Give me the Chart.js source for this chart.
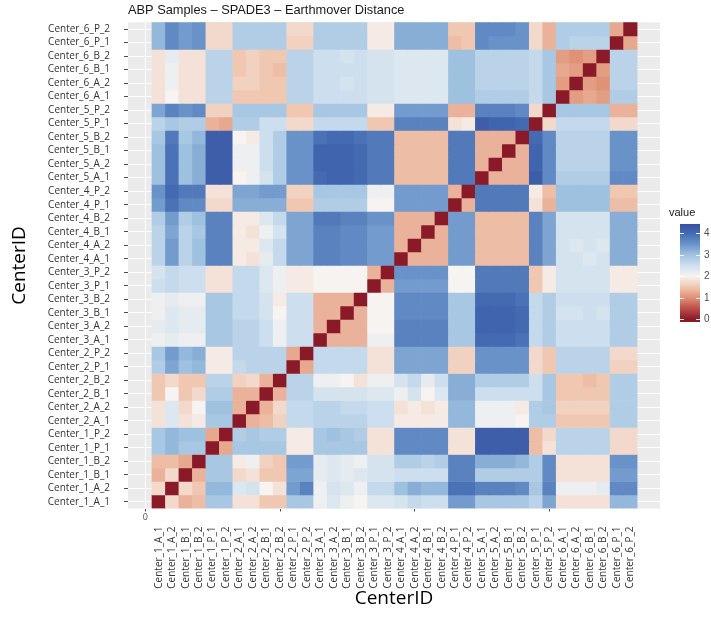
<!DOCTYPE html>
<html>
<head>
<meta charset="utf-8">
<title>ABP Samples – SPADE3 – Earthmover Distance</title>
<script src="https://cdn.jsdelivr.net/npm/chart.js@4/dist/chart.umd.min.js"></script>
<style>
  html, body { margin: 0; padding: 0; background: #fff; }
</style>
</head>
<body>
<canvas id="chartEmd" width="711" height="628"></canvas>
<script>
// sample labels, bottom row / first column first
const centers = [
  'Center_1_A_1', 'Center_1_A_2', 'Center_1_B_1', 'Center_1_B_2', 'Center_1_P_1', 'Center_1_P_2',
  'Center_2_A_1', 'Center_2_A_2', 'Center_2_B_1', 'Center_2_B_2', 'Center_2_P_1', 'Center_2_P_2',
  'Center_3_A_1', 'Center_3_A_2', 'Center_3_B_1', 'Center_3_B_2', 'Center_3_P_1', 'Center_3_P_2',
  'Center_4_A_1', 'Center_4_A_2', 'Center_4_B_1', 'Center_4_B_2', 'Center_4_P_1', 'Center_4_P_2',
  'Center_5_A_1', 'Center_5_A_2', 'Center_5_B_1', 'Center_5_B_2', 'Center_5_P_1', 'Center_5_P_2',
  'Center_6_A_1', 'Center_6_A_2', 'Center_6_B_1', 'Center_6_B_2', 'Center_6_P_1', 'Center_6_P_2'
];

// earthmover distance, one row per sample (same order as centers)
const emd = [
  [0,1.7,1.3,1.4,2.9,2.9, 1.8,1.8,1.5,1.5,2.9,2.9, 2.1,2.3,2.1,2.0,2.3,2.3, 2.4,2.6,2.5,2.5,3.4,3.4, 2.9,2.9,2.9,2.9,2.7,3.3, 1.8,1.8,1.8,1.8,3.1,3.1],
  [1.7,0,1.7,1.5,3.1,3.1, 2.3,2.4,2.0,1.8,3.4,3.7, 2.1,2.4,2.3,2.1,2.6,2.6, 3.0,3.2,3.1,3.1,3.9,3.9, 3.7,3.7,3.7,3.6,2.9,3.7, 2.1,2.1,2.1,2.2,3.6,3.6],
  [1.3,1.7,0,1.3,2.9,2.9, 1.7,1.8,1.5,1.5,3.3,3.3, 2.2,2.3,2.2,2.3,2.4,2.4, 2.5,2.5,2.5,2.5,3.7,3.7, 2.8,2.8,2.8,2.8,2.8,3.6, 1.8,1.8,1.8,1.8,3.4,3.4],
  [1.4,1.4,1.2,0,2.9,2.9, 1.9,2.1,1.6,1.5,3.4,3.4, 2.2,2.3,2.2,2.1,2.4,2.4, 2.8,2.8,2.7,2.8,3.7,3.7, 3.2,3.2,3.2,3.1,2.8,3.6, 1.8,1.8,1.8,1.8,3.5,3.5],
  [2.9,3.1,2.9,2.9,0,1.2, 2.9,2.9,2.9,2.9,1.9,1.9, 2.9,2.9,2.9,2.9,1.8,1.8, 3.6,3.6,3.6,3.6,1.8,1.8, 4.2,4.2,4.2,4.2,1.4,1.8, 2.7,2.7,2.7,2.7,1.7,1.7],
  [2.9,3.1,3.0,3.0,1.2,0, 2.8,2.9,2.8,2.8,1.9,1.9, 2.9,3.0,2.9,2.8,1.8,1.8, 3.6,3.6,3.6,3.6,1.8,1.8, 4.2,4.2,4.2,4.2,1.4,1.7, 2.7,2.7,2.7,2.7,1.7,1.7],
  [1.8,2.3,1.8,1.9,2.9,2.9, 0,1.3,1.4,1.6,2.6,2.6, 2.7,2.7,2.7,2.7,2.5,2.5, 1.9,1.9,1.9,1.9,3.1,3.1, 2.1,2.1,2.1,2.0,2.8,2.8, 1.5,1.5,1.5,1.5,2.8,2.8],
  [1.8,2.3,1.7,2.0,3.0,3.0, 1.3,0,1.3,1.7,2.6,2.6, 2.7,2.7,2.6,2.6,2.5,2.5, 1.8,1.9,1.8,1.9,3.1,3.1, 2.1,2.1,2.1,1.9,2.8,2.9, 1.6,1.6,1.6,1.6,2.8,2.8],
  [1.5,2.0,1.5,1.7,2.8,2.8, 1.3,1.3,0,1.3,2.7,2.7, 2.4,2.4,2.4,2.4,2.3,2.3, 2.1,2.4,2.0,2.3,3.2,3.2, 2.5,2.5,2.5,2.5,2.5,2.9, 1.5,1.5,1.5,1.5,2.8,2.8],
  [1.5,1.7,1.5,1.5,2.7,2.7, 1.6,1.7,1.3,0,2.7,2.7, 2.1,2.1,2.0,1.8,2.1,2.1, 2.4,2.6,2.2,2.5,3.2,3.2, 2.8,2.8,2.8,2.8,2.5,2.9, 1.5,1.5,1.4,1.5,2.8,2.8],
  [2.8,3.3,3.0,3.1,1.9,1.9, 2.6,2.7,2.7,2.7,0,1.2, 2.6,2.6,2.6,2.6,1.8,1.8, 3.3,3.3,3.3,3.3,1.6,1.6, 3.5,3.5,3.5,3.5,1.7,1.5, 2.7,2.7,2.7,2.7,1.6,1.6],
  [2.9,3.4,3.1,3.2,1.9,1.9, 2.7,2.7,2.7,2.7,1.2,0, 2.6,2.6,2.6,2.6,1.8,1.8, 3.3,3.3,3.3,3.3,1.6,1.6, 3.5,3.5,3.5,3.5,1.7,1.5, 2.7,2.7,2.7,2.7,1.7,1.7],
  [2.1,2.2,2.1,2.1,2.9,2.9, 2.7,2.7,2.5,2.1,2.5,2.5, 0,1.3,1.3,1.3,2.1,2.1, 3.7,3.7,3.7,3.7,2.9,2.9, 4.0,4.0,4.0,3.9,2.6,2.8, 2.5,2.5,2.5,2.5,2.8,2.8],
  [2.2,2.3,2.2,2.2,2.9,2.9, 2.7,2.7,2.5,2.1,2.5,2.5, 1.3,0,1.3,1.3,2.0,2.0, 3.7,3.7,3.7,3.7,2.9,2.9, 4.1,4.1,4.1,4.0,2.6,2.8, 2.5,2.5,2.5,2.5,2.8,2.8],
  [2.1,2.3,2.2,2.2,2.9,2.9, 2.6,2.6,2.4,2.0,2.5,2.5, 1.3,1.3,0,1.3,2.0,2.0, 3.6,3.6,3.6,3.6,2.9,2.9, 4.1,4.1,4.1,4.0,2.6,2.8, 2.4,2.4,2.5,2.4,2.8,2.8],
  [2.1,2.2,2.1,2.1,2.9,2.9, 2.6,2.6,2.4,1.9,2.5,2.5, 1.3,1.3,1.3,0,2.0,2.0, 3.6,3.6,3.6,3.6,2.9,2.9, 4.0,4.0,4.0,3.9,2.6,2.8, 2.5,2.5,2.5,2.5,2.8,2.8],
  [2.5,2.6,2.5,2.5,1.8,1.8, 2.6,2.6,2.3,2.1,1.9,1.9, 2.0,2.0,2.0,2.0,0,1.3, 3.4,3.4,3.4,3.4,2.0,2.0, 3.8,3.8,3.8,3.8,1.5,1.9, 2.4,2.4,2.4,2.4,1.9,1.9],
  [2.4,2.6,2.5,2.5,1.8,1.8, 2.6,2.6,2.3,2.1,1.9,1.9, 2.0,2.0,2.0,2.0,1.3,0, 3.5,3.5,3.5,3.5,2.0,2.0, 3.8,3.8,3.8,3.8,1.5,1.9, 2.4,2.4,2.4,2.4,1.9,1.9],
  [2.7,3.4,2.7,3.0,3.7,3.7, 1.9,1.8,2.2,2.6,3.3,3.3, 3.7,3.7,3.6,3.6,3.4,3.4, 0,1.3,1.3,1.3,3.4,3.4, 1.4,1.4,1.4,1.4,3.7,3.3, 2.4,2.4,2.3,2.4,3.2,3.2],
  [2.7,3.4,2.7,3.0,3.7,3.7, 1.9,1.9,2.3,2.6,3.3,3.3, 3.7,3.7,3.6,3.6,3.4,3.4, 1.3,0,1.3,1.3,3.4,3.4, 1.4,1.4,1.4,1.4,3.7,3.3, 2.4,2.3,2.4,2.3,3.2,3.2],
  [2.7,3.3,2.7,2.9,3.7,3.7, 1.9,1.8,2.1,2.4,3.3,3.3, 3.7,3.7,3.6,3.6,3.4,3.4, 1.3,1.3,0,1.3,3.4,3.4, 1.4,1.4,1.4,1.4,3.7,3.3, 2.4,2.4,2.4,2.4,3.2,3.2],
  [2.8,3.4,2.8,3.0,3.7,3.7, 1.9,1.9,2.3,2.6,3.3,3.3, 3.8,3.8,3.7,3.7,3.5,3.5, 1.3,1.3,1.3,0,3.4,3.4, 1.4,1.4,1.4,1.4,3.7,3.3, 2.4,2.4,2.4,2.4,3.2,3.2],
  [3.4,3.9,3.6,3.6,1.7,1.7, 3.2,3.2,3.2,3.2,1.5,1.5, 2.8,2.8,2.8,2.8,2.0,2.0, 3.4,3.4,3.4,3.4,0,1.3, 3.8,3.8,3.8,3.8,1.8,1.3, 3.0,3.0,3.0,3.0,1.4,1.4],
  [3.5,4.0,3.8,3.8,1.8,1.8, 3.3,3.3,3.4,3.4,1.6,1.6, 2.9,2.9,2.9,2.9,2.1,2.1, 3.4,3.4,3.4,3.4,1.3,0, 3.8,3.8,3.8,3.8,1.9,1.4, 3.0,3.0,3.0,3.0,1.5,1.5],
  [3.0,3.9,3.0,3.2,4.2,4.2, 2.0,2.1,2.4,2.8,3.5,3.5, 4.0,4.1,4.1,4.0,3.8,3.8, 1.4,1.4,1.4,1.4,3.8,3.8, 0,1.3,1.3,1.3,4.2,3.6, 2.8,2.8,2.8,2.8,3.6,3.6],
  [3.0,3.9,3.0,3.2,4.2,4.2, 2.1,2.1,2.5,2.8,3.5,3.5, 4.1,4.1,4.1,4.0,3.8,3.8, 1.4,1.4,1.4,1.4,3.8,3.8, 1.3,0,1.3,1.3,4.1,3.6, 2.7,2.7,2.7,2.7,3.5,3.5],
  [3.0,3.9,3.0,3.2,4.2,4.2, 2.1,2.1,2.5,2.8,3.5,3.5, 4.1,4.1,4.1,4.0,3.8,3.8, 1.4,1.4,1.4,1.4,3.8,3.8, 1.3,1.3,0,1.3,4.1,3.6, 2.7,2.7,2.7,2.7,3.5,3.5],
  [2.9,3.8,2.9,3.1,4.2,4.2, 2.0,1.9,2.5,2.8,3.5,3.5, 3.9,4.0,4.0,3.9,3.8,3.8, 1.4,1.4,1.4,1.4,3.8,3.8, 1.3,1.3,1.3,0,4.0,3.6, 2.7,2.7,2.7,2.7,3.5,3.5],
  [2.7,2.9,2.8,2.8,1.3,1.2, 2.8,2.8,2.5,2.5,1.7,1.7, 2.6,2.6,2.6,2.6,1.5,1.5, 3.7,3.7,3.7,3.7,1.8,1.9, 4.2,4.1,4.1,4.0,0,1.7, 2.6,2.6,2.6,2.6,1.7,1.7],
  [3.3,3.7,3.5,3.6,1.6,1.6, 2.9,2.9,2.9,2.9,1.5,1.5, 2.9,2.9,2.9,2.9,1.9,1.9, 3.4,3.4,3.4,3.4,1.3,1.3, 3.7,3.7,3.7,3.6,1.7,0, 2.9,2.9,2.9,2.9,1.3,1.3],
  [1.8,2.0,1.8,1.8,2.7,2.7, 1.5,1.5,1.5,1.5,2.7,2.7, 2.5,2.5,2.5,2.5,2.4,2.4, 2.3,2.3,2.3,2.3,3.0,3.0, 2.8,2.8,2.8,2.8,2.6,2.9, 0,1.1,1.2,1.1,2.8,2.8],
  [1.8,2.1,1.8,1.8,2.7,2.7, 1.6,1.6,1.5,1.5,2.7,2.7, 2.5,2.5,2.4,2.5,2.4,2.4, 2.3,2.3,2.3,2.3,3.0,3.0, 2.7,2.7,2.7,2.7,2.6,2.9, 1.1,0,1.1,1.0,2.7,2.7],
  [1.8,2.1,1.8,1.8,2.7,2.7, 1.5,1.6,1.5,1.4,2.7,2.7, 2.5,2.5,2.5,2.5,2.4,2.4, 2.3,2.3,2.3,2.3,3.0,3.0, 2.7,2.7,2.7,2.7,2.6,2.9, 1.2,1.1,0,1.1,2.7,2.7],
  [1.8,2.2,1.8,1.8,2.7,2.7, 1.5,1.6,1.5,1.5,2.7,2.7, 2.5,2.5,2.4,2.5,2.4,2.4, 2.3,2.3,2.3,2.3,3.0,3.0, 2.7,2.7,2.7,2.7,2.6,2.9, 1.1,1.0,1.1,0,2.7,2.7],
  [3.1,3.6,3.4,3.5,1.7,1.7, 2.8,2.8,2.8,2.8,1.6,1.6, 2.8,2.8,2.8,2.8,1.9,1.9, 3.2,3.2,3.2,3.2,1.4,1.5, 3.6,3.5,3.5,3.5,1.7,1.3, 2.8,2.7,2.7,2.7,0,1.2],
  [3.1,3.6,3.4,3.5,1.7,1.7, 2.8,2.8,2.8,2.8,1.7,1.7, 2.8,2.8,2.8,2.8,1.9,1.9, 3.2,3.2,3.2,3.2,1.5,1.5, 3.6,3.6,3.6,3.5,1.7,1.3, 2.8,2.8,2.8,2.8,1.2,0]
];

const xBreaks = [0, 10, 20, 30];
const legendTicks = [0, 1, 2, 3, 4];
const legendMax = 4.42;

// red - white - blue fill, piecewise in rgb
const ramp = [
  [0.0, [139, 26, 40]],
  [0.5, [190, 80, 75]],
  [1.0, [224, 146, 118]],
  [1.5, [240, 200, 178]],
  [2.0, [246, 243, 241]],
  [2.5, [205, 223, 238]],
  [3.0, [158, 193, 224]],
  [3.5, [104, 146, 200]],
  [4.0, [68, 106, 178]],
  [4.42, [55, 80, 160]]
];

function fillFor(v) {
  if (v <= ramp[0][0]) return 'rgb(' + ramp[0][1].join(',') + ')';
  for (let k = 1; k < ramp.length; k++) {
    if (v <= ramp[k][0]) {
      const [v0, c0] = ramp[k - 1];
      const [v1, c1] = ramp[k];
      const t = (v - v0) / (v1 - v0);
      const c = c0.map((a, n) => Math.round(a + (c1[n] - a) * t));
      return 'rgb(' + c.join(',') + ')';
    }
  }
  return 'rgb(' + ramp[ramp.length - 1][1].join(',') + ')';
}

const cells = [];
const cellColors = [];
emd.forEach((row, i) => {
  row.forEach((v, j) => {
    cells.push({ x: j + 1, y: [i + 0.5, i + 1.5], v: v });
    cellColors.push(fillFor(v));
  });
});

const X_MIN = -1.28, X_MAX = 38.2;
const labelFont = { family: 'Open Sans', size: 10 };
const axisTitleFont = { family: 'Open Sans', size: 19 };

// grey ggplot panel behind the tiles
const panelBg = {
  id: 'panelBg',
  beforeDraw(chart) {
    const { ctx, chartArea: a } = chart;
    ctx.save();
    ctx.fillStyle = '#EBEBEB';
    ctx.fillRect(a.left, a.top, a.right - a.left, a.bottom - a.top);
    ctx.restore();
  }
};

// continuous colour bar on the right
const colorBar = {
  id: 'colorBar',
  afterDraw(chart) {
    const ctx = chart.ctx;
    const x0 = 680, w = 20, y0 = 319, perUnit = 21.5;
    const yTop = y0 - legendMax * perUnit;
    const yBot = 322;
    const grad = ctx.createLinearGradient(0, y0, 0, yTop);
    ramp.forEach(([v, c]) => grad.addColorStop(v / legendMax, 'rgb(' + c.join(',') + ')'));
    ctx.save();
    ctx.fillStyle = grad;
    ctx.fillRect(x0, yTop, w, yBot - yTop);
    ctx.strokeStyle = 'rgba(255,255,255,0.9)';
    ctx.lineWidth = 1;
    ctx.font = '10px "Liberation Sans"';
    ctx.fillStyle = '#4d4d4d';
    ctx.textBaseline = 'middle';
    ctx.textAlign = 'left';
    legendTicks.forEach(v => {
      const y = Math.round(y0 - v * perUnit) + 0.5;
      ctx.beginPath();
      ctx.moveTo(x0, y); ctx.lineTo(x0 + 4, y);
      ctx.moveTo(x0 + w - 4, y); ctx.lineTo(x0 + w, y);
      ctx.stroke();
      ctx.fillText(String(v), x0 + w + 4, y);
    });
    ctx.fillStyle = '#1a1a1a';
    ctx.font = '11px "Liberation Sans"';
    ctx.textBaseline = 'alphabetic';
    ctx.fillText('value', 669, 216);
    ctx.restore();
  }
};

const ctx = document.getElementById('chartEmd').getContext('2d');
new Chart(ctx, {
  type: 'bar',
  data: {
    datasets: [{
      data: cells,
      backgroundColor: cellColors,
      borderWidth: 0,
      barPercentage: 1,
      categoryPercentage: 1,
      xAxisID: 'x',
      yAxisID: 'y'
    }]
  },
  options: {
    responsive: false,
    animation: false,
    layout: { padding: { left: 0, right: 51, top: 0, bottom: 0 } },
    plugins: {
      legend: { display: false },
      tooltip: { enabled: false },
      title: {
        display: true,
        text: 'ABP Samples – SPADE3 – Earthmover Distance',
        align: 'start',
        fullSize: false,
        color: '#1a1a1a',
        font: { family: 'Liberation Sans', size: 12.8, weight: 'normal' },
        padding: { top: 3, bottom: 4 }
      }
    },
    scales: {
      x: {
        type: 'linear',
        axis: 'x',
        position: 'bottom',
        weight: 0,
        min: X_MIN,
        max: X_MAX,
        offset: false,
        afterBuildTicks: s => { s.ticks = xBreaks.map(v => ({ value: v })); },
        afterFit: s => { s.height = 15; },
        grid: { color: '#ffffff', lineWidth: 1, tickColor: '#4d4d4d', tickLength: 3, offset: false },
        border: { display: false },
        ticks: {
          autoSkip: false, maxRotation: 0, padding: 1, color: '#4d4d4d',
          font: { family: 'Open Sans', size: 9 },
          callback: v => (v === 0 ? '0' : '')
        }
      },
      names: {
        type: 'linear',
        axis: 'x',
        position: 'bottom',
        weight: 1,
        min: X_MIN,
        max: X_MAX,
        offset: false,
        afterBuildTicks: s => { s.ticks = centers.map((c, i) => ({ value: i + 1 })); },
        afterFit: s => { s.height = 104.5; },
        grid: { display: false, drawTicks: false, offset: false },
        border: { display: false },
        ticks: {
          autoSkip: false, minRotation: 90, maxRotation: 90, padding: 3, color: '#333333',
          font: labelFont,
          callback: v => centers[Math.round(v) - 1]
        },
        title: { display: true, text: 'CenterID', color: '#000000', font: axisTitleFont, padding: { top: 0, bottom: 18 } }
      },
      y: {
        type: 'linear',
        position: 'left',
        min: 0.5,
        max: 36.5,
        afterBuildTicks: s => { s.ticks = centers.map((c, i) => ({ value: i + 1 })); },
        afterFit: s => { s.width = 128; },
        grid: { color: '#ffffff', lineWidth: 1, tickColor: '#4d4d4d', tickLength: 4 },
        border: { display: false },
        ticks: {
          autoSkip: false, padding: 14, color: '#333333',
          font: labelFont,
          callback: v => centers[Math.round(v) - 1]
        },
        title: { display: true, text: 'CenterID', color: '#000000', font: axisTitleFont, padding: { top: 8, bottom: 0 } }
      }
    }
  },
  plugins: [panelBg, colorBar]
});
</script>
</body>
</html>
